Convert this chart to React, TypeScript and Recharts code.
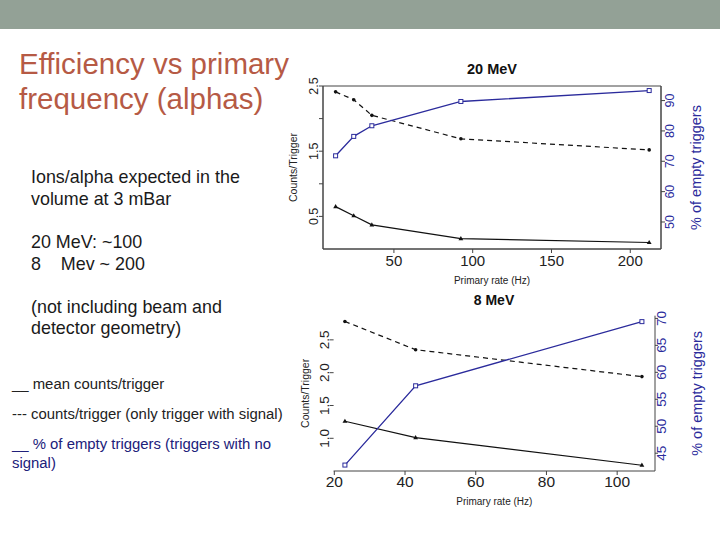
import React from 'react';
import { LineChart, Line, XAxis, YAxis, ReferenceArea } from 'recharts';

// 20 MeV run
const rates20 = [13, 24.5, 36, 92.5, 212];
const mean20 = [0.65, 0.51, 0.37, 0.16, 0.1];
const signal20 = [2.41, 2.29, 2.05, 1.69, 1.52];
const empty20 = [71.8, 78.2, 81.7, 89.7, 93.3];

// 8 MeV run
const rates8 = [23, 43, 107];
const mean8 = [1.26, 1.01, 0.59];
const signal8 = [2.78, 2.35, 1.94];
const empty8 = [42.8, 57.5, 69.4];

const xTicks20 = [50, 100, 150, 200];
const leftTicks20 = [0.5, 1.0, 1.5, 2.0, 2.5];
const leftLabels20 = ['0.5', '1.5', '2.5'];
const rightTicks20 = [50, 60, 70, 80, 90];

const xTicks8 = [20, 40, 60, 80, 100];
const leftTicks8 = [1.0, 1.5, 2.0, 2.5];
const rightTicks8 = [45, 50, 55, 60, 65, 70];

const FONT = '"Liberation Sans", Arial, Helvetica, sans-serif';
const BLUE = '#2b2b9c';
const NAVY = '#20207a';
const INK = '#111';
const AXIS = '#444';

const data20 = rates20.map((x, i) => ({ x, mean: mean20[i], signal: signal20[i], empty: empty20[i] }));
const data8 = rates8.map((x, i) => ({ x, mean: mean8[i], signal: signal8[i], empty: empty8[i] }));

const triangle = (p: any) => {
  const { cx, cy, index } = p;
  if (cx == null || cy == null) return <g key={`t${index}`} />;
  return <path key={`t${index}`} d={`M${cx},${cy - 2.6} L${cx + 2.4},${cy + 1.6} L${cx - 2.4},${cy + 1.6} Z`} fill={INK} />;
};

const circle = (p: any) => {
  const { cx, cy, index } = p;
  if (cx == null || cy == null) return <g key={`c${index}`} />;
  return <circle key={`c${index}`} cx={cx} cy={cy} r={1.8} fill={INK} />;
};

const square = (p: any) => {
  const { cx, cy, index } = p;
  if (cx == null || cy == null) return <g key={`s${index}`} />;
  return <rect key={`s${index}`} x={cx - 2} y={cy - 2} width={4} height={4} fill="#fff" stroke={BLUE} strokeWidth={1} />;
};

// x-axis tick: horizontal text below the axis
const xTick = (size: number, dy: number) => (p: any) => {
  const { x, y, payload } = p;
  return (
    <text x={x} y={y + dy} textAnchor="middle" dominantBaseline="central" fontSize={size} fill="#222" fontFamily={FONT}>
      {payload.value}
    </text>
  );
};

// y-axis tick: rotated text, centred at x + dx
const yTick = (size: number, dx: number, fill: string, fmt: (v: number) => string) => (p: any) => {
  const { x, y, payload } = p;
  const label = fmt(payload.value);
  if (!label) return <g />;
  const cx = x + dx;
  return (
    <text
      x={cx}
      y={y}
      transform={`rotate(-90, ${cx}, ${y})`}
      textAnchor="middle"
      dominantBaseline="central"
      fontSize={size}
      fill={fill}
      fontFamily={FONT}
    >
      {label}
    </text>
  );
};

const rotLabel = (text: string, dx: number, size: number, fill: string) => (p: any) => {
  const { x, y, height } = p.viewBox;
  const cx = x + dx;
  const cy = y + height / 2;
  return (
    <text
      x={cx}
      y={cy}
      transform={`rotate(-90, ${cx}, ${cy})`}
      textAnchor="middle"
      dominantBaseline="central"
      fontSize={size}
      fill={fill}
      fontFamily={FONT}
    >
      {text}
    </text>
  );
};

const xLabel = (dy: number) => (p: any) => {
  const { x, y, width } = p.viewBox;
  return (
    <text x={x + width / 2} y={y + dy} textAnchor="middle" dominantBaseline="central" fontSize={10} fill="#222" fontFamily={FONT}>
      Primary rate (Hz)
    </text>
  );
};

const Title = ({ text, left, top, size }: { text: string; left: number; top: number; size: number }) => (
  <div
    style={{
      position: 'absolute',
      left: left - 60,
      top: top - 10,
      width: 120,
      height: 20,
      lineHeight: '20px',
      textAlign: 'center',
      fontWeight: 'bold',
      fontSize: size,
      color: '#111',
    }}
  >
    {text}
  </div>
);

const line = (top: number, left: number, size: number, color: string, text: string) => (
  <div
    style={{
      position: 'absolute',
      left,
      top: top - 12,
      height: 24,
      lineHeight: '24px',
      fontSize: size,
      color,
      whiteSpace: 'pre',
    }}
  >
    {text}
  </div>
);

export default function App() {
  return (
    <div
      style={{
        position: 'absolute',
        left: 0,
        top: 0,
        width: 720,
        height: 540,
        overflow: 'hidden',
        background: '#fff',
        fontFamily: FONT,
      }}
    >
      <div style={{ position: 'absolute', left: 0, top: 0, width: 720, height: 29, background: '#93a196' }} />

      <div style={{ position: 'absolute', left: 19, top: 46, fontSize: 29.5, lineHeight: '35px', color: '#b65a45' }}>
        Efficiency vs primary
        <br />
        frequency (alphas)
      </div>

      {line(177, 31, 17.9, '#1a1a1a', 'Ions/alpha expected in the')}
      {line(199, 31, 17.9, '#1a1a1a', 'volume at 3 mBar')}
      {line(242, 31, 17.9, '#1a1a1a', '20 MeV: ~100')}
      {line(264, 31, 17.9, '#1a1a1a', '8    Mev ~ 200')}
      {line(307, 31, 17.9, '#1a1a1a', '(not including beam and')}
      {line(328, 31, 17.9, '#1a1a1a', 'detector geometry)')}
      {line(384, 12, 14.9, '#222', '__ mean counts/trigger')}
      {line(414, 12, 14.9, '#222', '--- counts/trigger (only trigger with signal)')}
      {line(444, 12, 14.9, NAVY, '__ % of empty triggers (triggers with no')}
      {line(463, 12, 14.9, NAVY, 'signal)')}

      {/* 20 MeV chart */}
      <div style={{ position: 'absolute', left: 280, top: 40 }}>
        <LineChart width={440} height={260} data={data20} margin={{ top: 46, right: 0, bottom: 0, left: 0 }}>
          <XAxis
            dataKey="x"
            type="number"
            domain={[5, 219.5]}
            ticks={xTicks20}
            interval={0}
            height={51}
            stroke={AXIS}
            tickSize={4}
            tickMargin={0}
            tick={xTick(15, 7)}
            label={xLabel(31)}
            allowDataOverflow
          />
          <YAxis
            yAxisId="left"
            type="number"
            domain={[0, 2.5]}
            ticks={leftTicks20}
            interval={0}
            width={43}
            stroke={AXIS}
            tickSize={4}
            tickMargin={0}
            tick={yTick(12.5, -5, '#222', (v) => (leftLabels20.includes(v.toFixed(1)) ? v.toFixed(1) : ''))}
            label={rotLabel('Counts/Trigger', 12.7, 10.5, '#222')}
            allowDataOverflow
          />
          <YAxis
            yAxisId="right"
            orientation="right"
            type="number"
            domain={[41.1, 94.8]}
            ticks={rightTicks20}
            interval={0}
            width={59}
            stroke={AXIS}
            tickSize={4}
            tickMargin={0}
            tick={yTick(12.5, 5.5, BLUE, (v) => String(v))}
            label={rotLabel('% of empty triggers', 35, 14.5, BLUE)}
            allowDataOverflow
          />
          <ReferenceArea yAxisId="left" x1={5} x2={219.5} y1={0} y2={2.5} fill="none" stroke={AXIS} strokeWidth={1} ifOverflow="visible" />
          <Line yAxisId="left" dataKey="signal" stroke={INK} strokeWidth={1.2} strokeDasharray="5 4" dot={circle} isAnimationActive={false} />
          <Line yAxisId="left" dataKey="mean" stroke={INK} strokeWidth={1.2} dot={triangle} isAnimationActive={false} />
          <Line yAxisId="right" dataKey="empty" stroke={BLUE} strokeWidth={1.3} dot={square} isAnimationActive={false} />
        </LineChart>
      </div>
      <Title text="20 MeV" left={492} top={69} size={14.5} />

      {/* 8 MeV chart */}
      <div style={{ position: 'absolute', left: 280, top: 290 }}>
        <LineChart width={440} height={250} data={data8} margin={{ top: 25.7, right: 0, bottom: 0, left: 0 }}>
          <XAxis
            dataKey="x"
            type="number"
            domain={[19.8, 110.7]}
            ticks={xTicks8}
            interval={0}
            height={69}
            stroke={AXIS}
            tickSize={4}
            tickMargin={0}
            tick={xTick(15.5, 6)}
            label={xLabel(30)}
            allowDataOverflow
          />
          <YAxis
            yAxisId="left"
            type="number"
            domain={[0.502, 2.868]}
            ticks={leftTicks8}
            interval={0}
            width={53.6}
            stroke={AXIS}
            axisLine={false}
            tickSize={4}
            tickMargin={0}
            tick={yTick(13.5, -5.5, '#222', (v) => v.toFixed(1))}
            label={rotLabel('Counts/Trigger', 25, 10.5, '#222')}
            allowDataOverflow
          />
          <YAxis
            yAxisId="right"
            orientation="right"
            type="number"
            domain={[41.7, 70.5]}
            ticks={rightTicks8}
            interval={0}
            width={65}
            stroke={AXIS}
            tickSize={3}
            tickMargin={0}
            tick={yTick(13.5, 4, BLUE, (v) => String(v))}
            label={rotLabel('% of empty triggers', 41.7, 14.5, BLUE)}
            allowDataOverflow
          />
          <Line yAxisId="left" dataKey="signal" stroke={INK} strokeWidth={1.2} strokeDasharray="5 4" dot={circle} isAnimationActive={false} />
          <Line yAxisId="left" dataKey="mean" stroke={INK} strokeWidth={1.2} dot={triangle} isAnimationActive={false} />
          <Line yAxisId="right" dataKey="empty" stroke={BLUE} strokeWidth={1.3} dot={square} isAnimationActive={false} />
        </LineChart>
      </div>
      <Title text="8 MeV" left={494} top={300} size={14} />
    </div>
  );
}
